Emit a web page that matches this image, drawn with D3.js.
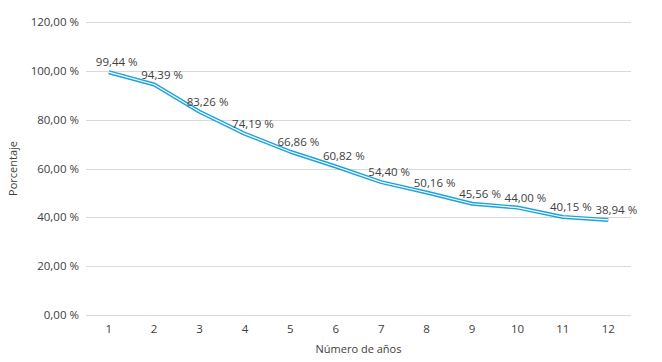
<!DOCTYPE html>
<html>
<head>
<meta charset="utf-8">
<script src="https://cdn.jsdelivr.net/npm/d3@7"></script>
<style>
  body { margin: 0; background: #fff; }
  text { font-family: "Open Sans", Lato, sans-serif; fill: #404040; }
</style>
</head>
<body>
<div class="chart"></div>
<script>
var w = 662, h = 362;

// data
var years = [1, 2, 3, 4, 5, 6, 7, 8, 9, 10, 11, 12];
var values = [99.44, 94.39, 83.26, 74.19, 66.86, 60.82, 54.40, 50.16, 45.56, 44.00, 40.15, 38.94];
var yTicks = [0, 20, 40, 60, 80, 100, 120];

var margin = { left: 86, right: 31, top: 22, bottom: 47 };

var fmt = function(v) {
	return v.toFixed(2).replace('.', ',') + ' %';
};

var x = d3.scaleBand().domain(years).range([margin.left, w - margin.right]);
var y = d3.scaleLinear().domain([0, 120]).range([h - margin.bottom, margin.top]);

var svg = d3.select('.chart').append('svg')
	.attr('width', w)
	.attr('height', h);

// gridlines
svg.append('g')
	.selectAll('line')
	.data(yTicks)
	.enter()
	.append('line')
		.attr('x1', margin.left)
		.attr('x2', w - margin.right)
		.attr('y1', function(d) { return Math.round(y(d)) + 0.5; })
		.attr('y2', function(d) { return Math.round(y(d)) + 0.5; })
		.attr('stroke', '#d9d9d9')
		.attr('stroke-width', 1);

// y tick labels
svg.append('g')
	.selectAll('text')
	.data(yTicks)
	.enter()
	.append('text')
		.attr('x', 79)
		.attr('y', function(d) { return y(d) + 4; })
		.attr('text-anchor', 'end')
		.style('font-size', '11.5px')
		.text(fmt);

// x tick labels
svg.append('g')
	.selectAll('text')
	.data(years)
	.enter()
	.append('text')
		.attr('x', function(d) { return x(d) + x.bandwidth() / 2; })
		.attr('y', h - margin.bottom + 18)
		.attr('text-anchor', 'middle')
		.style('font-size', '11.5px')
		.text(function(d) { return d; });

// axis titles
svg.append('text')
	.attr('x', margin.left + (w - margin.left - margin.right) / 2)
	.attr('y', 353)
	.attr('text-anchor', 'middle')
	.style('font-size', '11px')
	.text('Número de años');

svg.append('text')
	.attr('transform', 'translate(17,' + (margin.top + (h - margin.bottom - margin.top) / 2) + ') rotate(-90)')
	.attr('text-anchor', 'middle')
	.style('font-size', '11px')
	.text('Porcentaje');

var pts = years.map(function(d, i) { return { yr: d, v: values[i] }; });

var line = d3.line()
	.x(function(d) { return x(d.yr) + x.bandwidth() / 2; })
	.y(function(d) { return y(d.v); });

// double line: blue outer, white centre
svg.append('path')
	.datum(pts)
	.attr('fill', 'none')
	.attr('stroke', '#1ea3dc')
	.attr('stroke-width', 4)
	.attr('stroke-linejoin', 'round')
	.attr('d', line);

svg.append('path')
	.datum(pts)
	.attr('fill', 'none')
	.attr('stroke', '#fff')
	.attr('stroke-width', 1.2)
	.attr('stroke-linejoin', 'round')
	.attr('d', line);

// data labels
svg.append('g')
	.selectAll('text')
	.data(pts)
	.enter()
	.append('text')
		.attr('x', function(d) { return x(d.yr) + x.bandwidth() / 2 + 8; })
		.attr('y', function(d) { return y(d.v) - 6; })
		.attr('text-anchor', 'middle')
		.style('font-size', '11.5px')
		.text(function(d) { return fmt(d.v); });
</script>
</body>
</html>
